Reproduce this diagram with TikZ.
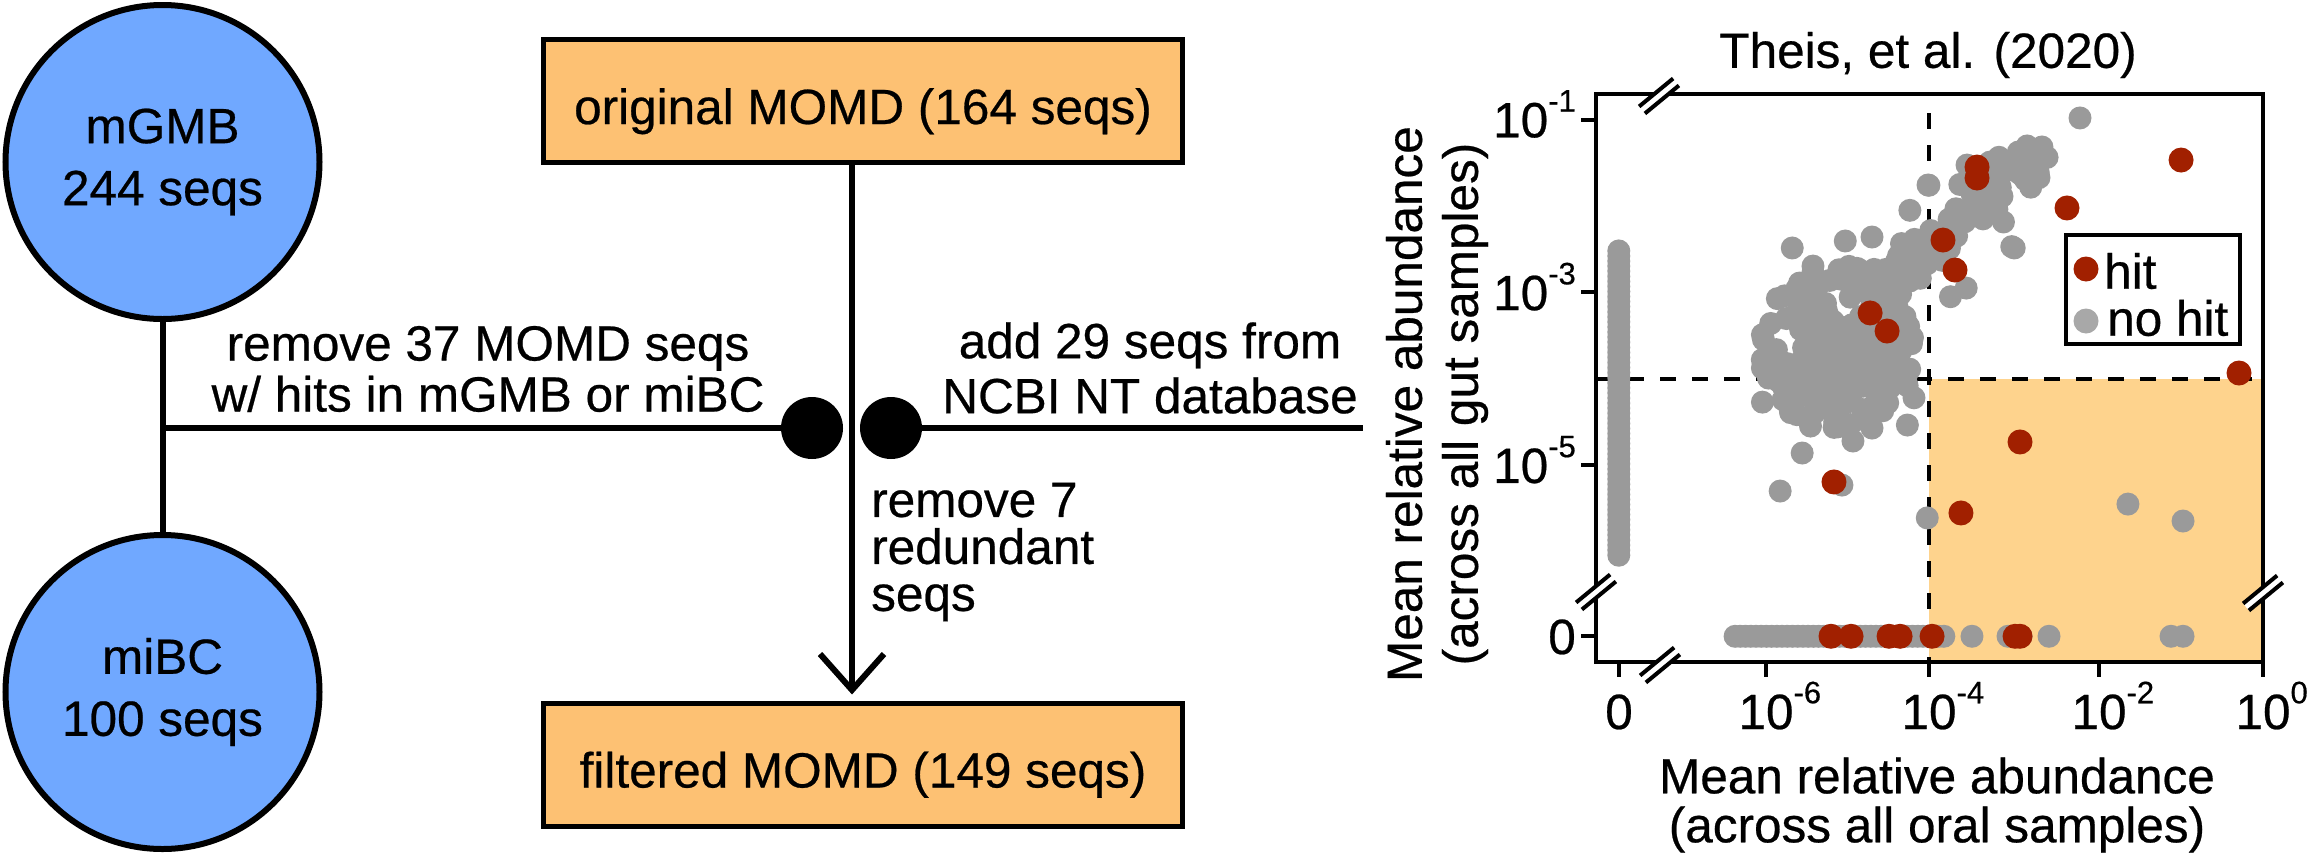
\documentclass[tikz,border=0pt]{standalone}
\usepackage{fontspec}
\setmainfont{Liberation Sans}[UprightFeatures={FakeBold=0.5}]
\usetikzlibrary{arrows.meta}

\definecolor{seqblue}{HTML}{70A8FF}
\definecolor{seqorange}{HTML}{FDC173}
\definecolor{zoneorange}{HTML}{FED38D}
\definecolor{hitred}{HTML}{A12000}
\definecolor{nohitgray}{HTML}{9A9A9A}
\definecolor{keygray}{HTML}{A8A8A8}

% 10 with a raised exponent (\rlap keeps the 10 centred on its tick)
\newcommand{\tenx}[1]{10\rlap{\raisebox{0.52em}{\fontsize{31}{31}\selectfont #1}}}
\newcommand{\teny}[1]{10\raisebox{0.52em}{\fontsize{31}{31}\selectfont #1}}

\tikzset{
  dbase/.style={circle, draw, fill=seqblue, line width=6pt, minimum size=314pt, inner sep=0pt, align=center, font=\fontsize{49.5}{62}\selectfont},
  momd/.style={rectangle, draw, fill=seqorange, line width=5pt, minimum width=639pt, minimum height=123pt, inner sep=0pt, text height=50pt, text depth=4pt},
  knot/.style={circle, fill, minimum size=62pt, inner sep=0pt},
  note/.style={align=center, inner sep=0pt},
  flow/.style={line width=6pt},
  hit/.style={fill=hitred},
  nohit/.style={fill=nohitgray},
  plotframe/.style={line width=4pt},
  dashguide/.style={line width=4pt, dash pattern=on 16pt off 16pt},
  brk/.pic={
    \fill[white] (-19.9,10.5) -- (14.1,-17.5) -- (19.9,-10.5) -- (-14.1,17.5) -- cycle;
    \draw[line width=4pt] (-19.9,10.5) -- (14.1,-17.5) (-14.1,17.5) -- (19.9,-10.5);
  }
}

\begin{document}
\begin{tikzpicture}[x=1pt, y=-1pt, font=\fontsize{49.5}{51}\selectfont]
\useasboundingbox (0,0) rectangle (2309,860);

% databases
\node (mgmb) at (162.5,162) [dbase] {mGMB\\244 seqs};
\node (mibc) at (162.5,692) [dbase] {miBC\\100 seqs};
\coordinate (split) at (162.5,428);
\draw[flow] (mgmb) -- (mibc);
\node (cutdot) at (812,428) [knot] {};
\node (adddot) at (891,428) [knot] {};
\coordinate (ncbi) at (1363,428);
\draw[flow] (split) -- (cutdot);
\draw[flow] (adddot) -- (ncbi);

% MOMD boxes
\node (orig) at (863,101) [momd] {original MOMD (164 seqs)};
\node (filt) at (863,764.5) [momd] {filtered MOMD (149 seqs)};
\coordinate (stem) at (852,0);
\draw[flow, -{Straight Barb[length=36pt,width=64pt]}, shorten >=6pt] (orig.south -| stem) -- (filt.north -| stem);

\node (cuttext) at (488,369) [note, font=\fontsize{49.5}{51}\selectfont] {remove 37 MOMD seqs\\w/ hits in mGMB or miBC};
\node (addtext) at (1150,368) [note, font=\fontsize{49.5}{55}\selectfont] {add 29 seqs from\\NCBI NT database};
\node (redtext) at (871,552) [note, anchor=west, align=left, font=\fontsize{49.5}{47}\selectfont] {remove 7\\redundant\\seqs};

% scatter plot
\node (title) at (1928,55) {Theis, et al. (2020)};
\fill[zoneorange] (1929,378.8) rectangle (2263,662);
\draw[dashguide] (1596,378.8) -- (2263,378.8);
\draw[dashguide] (1929,113) -- (1929,662);

\begin{scope}[shift={(2262.7pt,-33.2pt)}, x=82.83pt, y=86.4pt]
  \pgfmathsetseed{4242}
  % zero in oral samples
  \foreach \k in {0,...,60}
    \fill[nohit] (-7.774,{-2.52-\k*0.0587}) circle[radius=11.5pt];
  % zero in gut samples
  \foreach \k in {0,...,40}
    \fill[nohit] ({-6.37+\k*0.063},-6.98) circle[radius=11.5pt];
  \foreach \lx in {-3.51,-3.075,-2.918,-2.58,-1.107,-0.962}
    \fill[nohit] (\lx,-6.98) circle[radius=11.5pt];
  % main cloud
  \foreach \k in {1,...,240}{
    \pgfmathsetmacro\rndr{rnd^0.75}
    \pgfmathsetmacro\rnda{360*rnd}
    \fill[nohit] ({-5.13+0.95*\rndr*cos(\rnda)},{-3.62+1.0*\rndr*sin(\rnda)}) circle[radius=11.5pt];
  }
  \foreach \k in {1,...,110}{
    \pgfmathsetmacro\rndt{rnd}
    \pgfmathsetmacro\rndu{rand}
    \pgfmathsetmacro\rndv{rand}
    \fill[nohit] ({-4.62+1.87*\rndt+0.22*\rndu},{-2.97+1.62*\rndt+0.22*\rndv}) circle[radius=11.5pt];
  }
  \foreach \lx/\ly in {-2.206/-0.981, -2.665/-1.317, -4.041/-1.757, -5.68/-2.486, -5.04/-2.405,
      -4.717/-2.359, -3.0/-2.486, -6.04/-3.49, -6.04/-3.875, -6.04/-4.27, -5.56/-4.859,
      -4.947/-4.72, -4.717/-4.57, -4.29/-4.535, -4.21/-4.22, -3.58/-2.95, -5.826/-5.299,
      -5.08/-5.23, -4.26/-2.05, -4.03/-1.76, -3.57/-1.526, -2.95/-1.375, -2.71/-1.607,
      -3.03/-2.47, -3.13/-2.185, -3.77/-3.05,
      -4.05/-5.61, -1.627/-5.45, -0.962/-5.646}
    \fill[nohit] (\lx,\ly) circle[radius=11.5pt];
  % hits
  \foreach \lx/\ly in {-3.449/-1.549, -3.449/-1.676, -0.986/-1.468, -2.363/-2.023, -3.86/-2.394,
      -3.715/-2.741, -4.74/-3.238, -4.535/-3.447, -0.286/-3.933, -2.93/-4.731,
      -5.176/-5.194, -3.643/-5.553, -5.212/-6.98, -4.97/-6.98, -4.511/-6.98,
      -4.378/-6.98, -3.992/-6.98, -2.99/-6.98, -2.93/-6.98}
    \fill[hit] (\lx,\ly) circle[radius=12.5pt];
\end{scope}

\draw[plotframe] (1596,94.4) rectangle (2263,662);
\foreach \yy/\lab [count=\i] in {119.6/\teny{-1}, 292.4/\teny{-3}, 465.2/\teny{-5}, 636.3/0}{
  \draw[plotframe] (1596,\yy) -- (1581,\yy);
  \node (ytick\i) at (1576,\yy+17.7) [anchor=base east, inner sep=0pt] {\lab};
}
\foreach \xx/\lab [count=\i] in {1619/0, 1766/\tenx{-6}, 1929/\tenx{-4}, 2099/\tenx{-2}, 2263/\tenx{0}}{
  \draw[plotframe] (\xx,662) -- (\xx,677);
  \node (xtick\i) at (\xx,729) [anchor=base, inner sep=0pt] {\lab};
}
\pic at (1659,96) {brk};
\pic at (1596,592) {brk};
\pic at (1660,665) {brk};
\pic at (2263,593) {brk};

\node (ylab) at (1437,404) [rotate=90, align=center, font=\fontsize{49.5}{56}\selectfont] {Mean relative abundance\\(across all gut samples)};
\node (xlab) at (1937,805) [align=center, font=\fontsize{49.5}{49}\selectfont] {Mean relative abundance\\(across all oral samples)};

% legend
\node (legend) at (2153,289.5) [draw, fill=white, line width=4pt, minimum width=174pt, minimum height=109pt, inner sep=0pt] {};
\fill[hit] (2086,269) circle[radius=12.5pt];
\node (hitkey) at (2104,271) [anchor=west, inner sep=0pt] {hit};
\fill[keygray] (2086,321) circle[radius=12.5pt];
\node (nohitkey) at (2107,318) [anchor=west, inner sep=0pt] {no hit};
\end{tikzpicture}
\end{document}
